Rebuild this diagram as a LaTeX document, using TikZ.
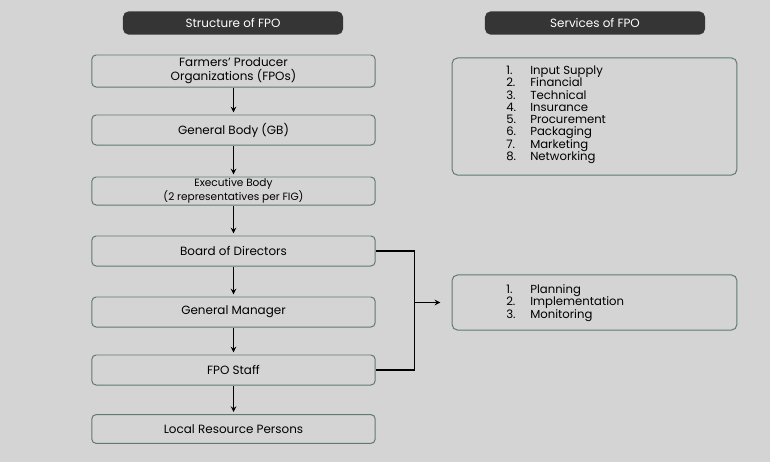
\documentclass[tikz,border=0pt]{standalone}
\usepackage{fontspec}
\setmainfont{Poppins}
\definecolor{bgcol}{HTML}{D4D4D4}
\definecolor{edgecol}{HTML}{5E7A70}
\definecolor{headcol}{HTML}{353535}
\begin{document}
\begin{tikzpicture}[x=0.025cm,y=-0.025cm,
  box/.style={draw=edgecol,line width=0.7pt,rounded corners=3pt,fill=bgcol,
    minimum width=7.08cm,minimum height=0.75cm,align=center,inner sep=1pt,
    font=\fontsize{8.5pt}{10pt}\selectfont},
  head/.style={fill=headcol,rounded corners=4pt,minimum width=5.5cm,
    minimum height=0.58cm,text=white,font=\fontsize{8.5pt}{10pt}\selectfont},
  panel/.style={draw=edgecol,line width=0.7pt,rounded corners=4pt,fill=bgcol,
    minimum width=7.12cm},
  list/.style={anchor=west,align=left,inner sep=0pt,
    font=\fontsize{8.3pt}{8.5pt}\selectfont}]
  \fill[bgcol] (0,0) rectangle (770,462);
  \node[head] (lhead) at (233,23) {Structure of FPO};
  \node[head] (rhead) at (595,23) {Services of FPO};
  \node[box,minimum height=0.8cm] (fpo) at (233.5,71) {Farmers' Producer\\Organizations (FPOs)};
  \node[box] (gb) at (233.5,130) {General Body (GB)};
  \node[box,minimum height=0.7cm,font=\fontsize{7.5pt}{8.5pt}\selectfont] (eb) at (233.5,191)
    {Executive Body\\(2 representatives per FIG)};
  \node[box] (bod) at (233.5,251) {Board of Directors};
  \node[box] (gm) at (233.5,312) {General Manager};
  \node[box] (staff) at (233.5,370) {FPO Staff};
  \node[box,minimum height=0.72cm] (lrp) at (233.5,429) {Local Resource Persons};
  \foreach \a/\b in {fpo/gb,gb/eb,eb/bod,bod/gm,gm/staff,staff/lrp}
    {\draw[-stealth,thick,shorten >=1.5pt] (\a) -- (\b);}
  \node[panel,minimum height=2.93cm] (svc) at (594.5,116.5) {};
  \node[list] (svclist) at (506,115) {\begin{tabular}{@{}p{0.6cm}@{}l@{}}
    1. & Input Supply\\ 2. & Financial\\ 3. & Technical\\ 4. & Insurance\\
    5. & Procurement\\ 6. & Packaging\\ 7. & Marketing\\ 8. & Networking
    \end{tabular}};
  \node[panel,minimum height=1.38cm] (fn) at (594.5,302.5) {};
  \node[list] (fnlist) at (506,303) {\begin{tabular}{@{}p{0.6cm}@{}l@{}}
    1. & Planning\\ 2. & Implementation\\ 3. & Monitoring
    \end{tabular}};
  \draw[thick] (bod.east) -- ++(39,0) coordinate (bus) |- (staff.east);
  \coordinate (tap) at (bus |- fn.west);
  \draw[-stealth,thick,shorten >=8pt] (tap) -- (fn.west);
\end{tikzpicture}
\end{document}
